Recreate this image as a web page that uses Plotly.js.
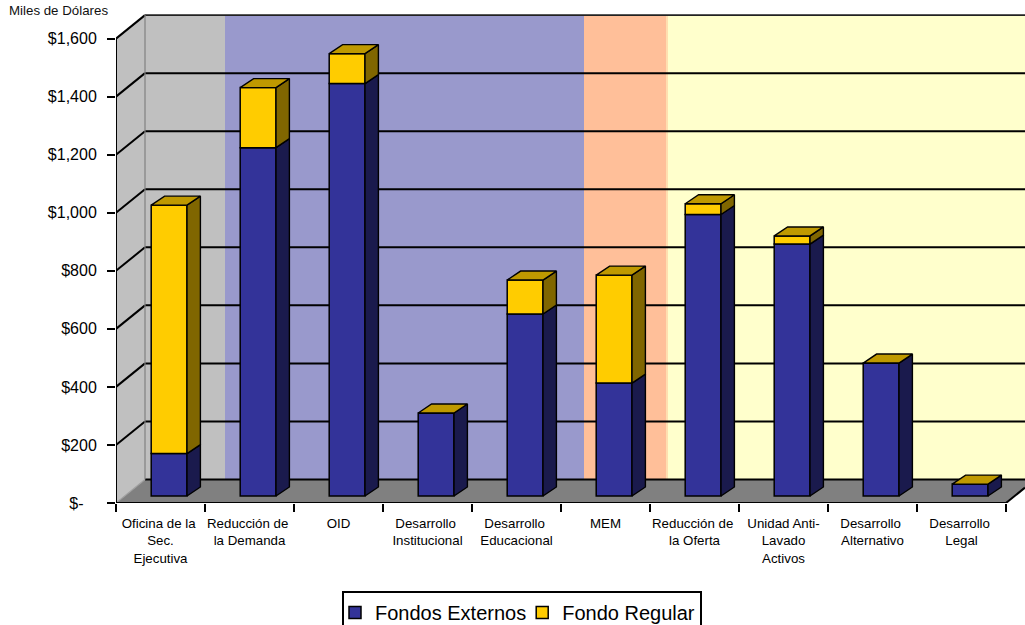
<!DOCTYPE html>
<html>
<head>
<meta charset="utf-8">
<script src="https://cdn.plot.ly/plotly-3.0.1.min.js"></script>
<style>html,body{margin:0;padding:0;background:#fff;overflow:hidden}</style>
</head>
<body>
<div id="chart" style="width:1025px;height:625px"></div>
<script>
// ---- data ----
const categories = ["Oficina de la\u00a0<br>Sec.<br>Ejecutiva","Reducción de\u00a0<br>la Demanda","OID","Desarrollo\u00a0<br>Institucional","Desarrollo\u00a0<br>Educacional","MEM","Reducción de\u00a0<br>la Oferta","Unidad Anti-<br>Lavado<br>Activos","Desarrollo\u00a0<br>Alternativo","Desarrollo\u00a0<br>Legal"];
const fondosExternos = [146,1200,1421,286,627,389,970,868,458,41];
const fondoRegular   = [856,207,103,0,117,372,37,28,0,0];
const valueTicks = [0,200,400,600,800,1000,1200,1400,1600];
const valueLabels = ["$-\u00a0\u00a0\u00a0","$200","$400","$600","$800","$1,000","$1,200","$1,400","$1,600"];
const seriesNames = ["Fondos Externos","Fondo Regular"];
// wall band edges (px along the chart) and their colours
const bandEdgesPx = [145,225,584,666,668,1025];
const bandColors  = ["#C0C0C0","#9999CC","#FFBF99","#FFDFB0","#FFFFCC"];

// ---- 3D projection constants ----
const W=1025,H=625,L=116,B=122,T=5;
const CAT=89, PXV=0.29025;            // px per category, px per dollar
const xMin=-0.5, xMax=(W-L)/CAT-0.5, yMax=(H-B-T)/PXV;
const wallDX=29/CAT, wallDY=23.5/PXV; // back wall shift
const barW=35.8/CAT, barShift=8.6/CAT, barBase=7/PXV;
const depthX=13.4/CAT, depthY=9/PXV;
const idx=categories.map((_,i)=>i);
const pxToX=p=>(p-L)/CAT-0.5;

const xs=idx.map(i=>i+barShift);
const base1=idx.map(()=>barBase);
const base2=fondosExternos.map(v=>v+barBase);

function sidePoly(bottoms,heights){
  const X=[],Y=[];
  idx.forEach(i=>{
    if(heights[i]<=0) return;
    const r=xs[i]+barW/2, y0=bottoms[i], y1=bottoms[i]+heights[i];
    X.push(r,r+depthX,r+depthX,r,r,null);
    Y.push(y0,y0+depthY,y1+depthY,y1,y0,null);
  });
  return {X,Y};
}
function topPoly(){
  const X=[],Y=[];
  idx.forEach(i=>{
    const l=xs[i]-barW/2, r=xs[i]+barW/2, y=barBase+fondosExternos[i]+fondoRegular[i];
    X.push(l,r,r+depthX,l+depthX,l,null);
    Y.push(y,y,y+depthY,y+depthY,y,null);
  });
  return {X,Y};
}
function poly(p,fill){
  return {type:'scatter',mode:'lines',x:p.X,y:p.Y,fill:'toself',fillcolor:fill,
    line:{color:'#000',width:1.4},showlegend:false,hoverinfo:'skip'};
}
const traces=[
  {type:'bar',name:seriesNames[0],x:xs,y:fondosExternos,base:base1,width:barW,
    marker:{color:'#333399',line:{color:'#000',width:1.5}}},
  {type:'bar',name:seriesNames[1],x:xs,y:fondoRegular,base:base2,width:barW,
    marker:{color:'#FFCC00',line:{color:'#000',width:1.5}}},
  poly(sidePoly(base1,fondosExternos),'#1A1A4D'),
  poly(sidePoly(base2,fondoRegular),'#806600'),
  poly(topPoly(),'#BF9900')
];

const shapes=[];
const rect=(x0,x1,y0,y1,c)=>({type:'rect',layer:'below',xref:'x',yref:'y',x0,x1,y0,y1,fillcolor:c,line:{width:0}});
const seg=(x0,y0,x1,y1,c,w)=>({type:'line',layer:'below',xref:'x',yref:'y',x0,y0,x1,y1,line:{color:c,width:w}});
const xBack=xMin+wallDX;
// left wall
shapes.push({type:'path',layer:'below',xref:'x',yref:'y',
  path:`M${xMin},0 L${xBack},${wallDY} L${xBack},${1600+wallDY} L${xMin},1600 Z`,fillcolor:'#C0C0C0',line:{width:0}});
// back wall bands
bandColors.forEach((c,i)=>shapes.push(rect(pxToX(bandEdgesPx[i]),pxToX(bandEdgesPx[i+1]),wallDY,1600+wallDY,c)));
// floor
const xEnd=xMin+categories.length;
const rightY=(xMax-xEnd)/wallDX*wallDY;
shapes.push({type:'path',layer:'below',xref:'x',yref:'y',
  path:`M${xMin},0 L${xBack},${wallDY} L${xMax},${wallDY} L${xMax},${rightY} L${xEnd},0 Z`,fillcolor:'#808080',line:{width:0}});
// gridlines on the walls
valueTicks.forEach(v=>{
  if(v>0) shapes.push(seg(xMin,v,xBack,v+wallDY,'#000',2));
  shapes.push(seg(xBack,v+wallDY,xMax,v+wallDY,v===1600?'#222':'#000',v===1600?1.6:2));
});
// wall corner and axis lines
shapes.push(seg(xBack,wallDY,xBack,1600+wallDY,'#808080',1.2));
shapes.push(seg(xMin,0,xBack,wallDY,'#A0A0A0',1.2));
shapes.push(seg(xMin,0,xMin,1600,'#000',2));
shapes.push(seg(xMin,0,xEnd,0,'#000',2));
shapes.push(seg(xEnd,0,xMax,rightY,'#000',2));

const layout={
  width:W,height:H,paper_bgcolor:'#fff',plot_bgcolor:'#fff',
  margin:{l:L,r:0,t:T,b:B,pad:0,autoexpand:false},
  font:{family:'"Liberation Sans",Arial,sans-serif',color:'#000'},
  title:{text:'Miles de Dólares',font:{size:13.3,color:'#111'},xref:'container',x:9/W,xanchor:'left',yref:'container',y:1-10.5/H,yanchor:'middle'},
  barmode:'overlay',bargap:0,
  xaxis:{type:'linear',range:[xMin,xMax],fixedrange:true,showgrid:false,zeroline:false,showline:false,
    tickmode:'array',tickvals:idx,ticktext:categories,tickangle:0,
    ticks:'outside',ticklen:8,tickcolor:'rgba(0,0,0,0)',tickfont:{size:13.3},
    minor:{tickmode:'array',tickvals:[...idx.map(i=>i-0.5),idx.length-0.5],ticks:'outside',ticklen:8,tickwidth:2,tickcolor:'#000',showgrid:false}},
  yaxis:{range:[0,yMax],fixedrange:true,showgrid:false,zeroline:false,showline:false,
    tickmode:'array',tickvals:valueTicks,ticktext:valueLabels,ticklabelstandoff:7,
    ticks:'outside',ticklen:8,tickwidth:2,tickcolor:'#000',tickfont:{size:16}},
  legend:{orientation:'h',xref:'paper',yref:'container',x:(342-L)/(W-L),xanchor:'left',y:1-591/H,yanchor:'top',
    bgcolor:'#fff',bordercolor:'#000',borderwidth:2,itemwidth:30,indentation:-9,font:{size:20},traceorder:'normal',itemclick:false,itemdoubleclick:false},
  shapes:shapes,showlegend:true
};
Plotly.newPlot('chart',traces,layout,{displayModeBar:false,staticPlot:true});
</script>
</body>
</html>
